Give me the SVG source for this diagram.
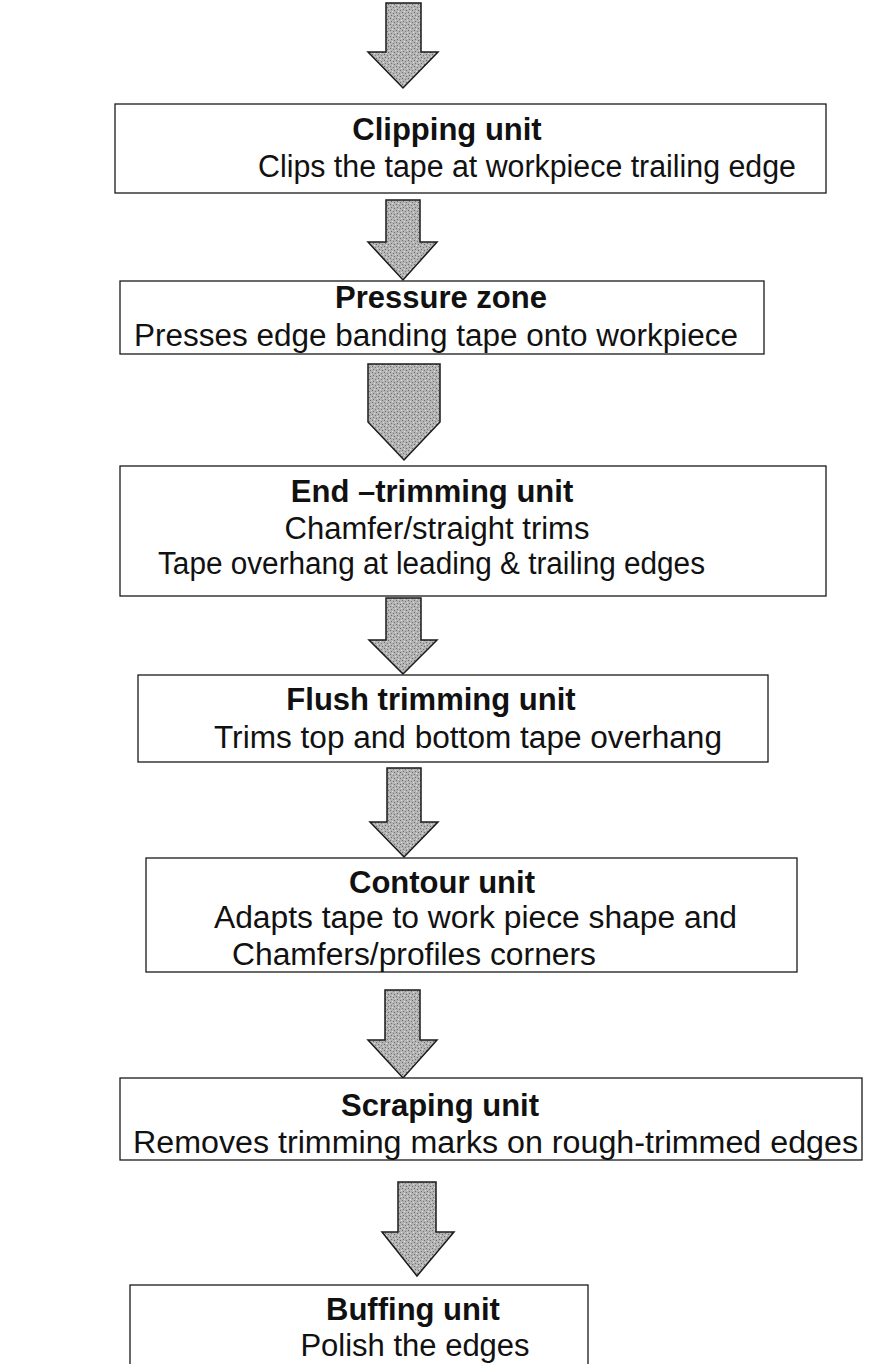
<svg xmlns="http://www.w3.org/2000/svg" width="872" height="1364" viewBox="0 0 872 1364">
<defs>
<pattern id="stipple" width="6" height="6" patternUnits="userSpaceOnUse">
<rect width="6" height="6" fill="#b4b4b4"/>
<rect x="0" y="0" width="1" height="1" fill="#6e6e6e"/>
<rect x="3" y="1" width="1" height="1" fill="#7a7a7a"/>
<rect x="1" y="3" width="1" height="1" fill="#707070"/>
<rect x="4" y="4" width="1" height="1" fill="#6a6a6a"/>
<rect x="2" y="5" width="1" height="1" fill="#e0e0e0"/>
<rect x="5" y="2" width="1" height="1" fill="#dcdcdc"/>
</pattern>
</defs>
<style>
.box{fill:#fff;stroke:#1a1a1a;stroke-width:1.3}
.arr{fill:url(#stipple);stroke:#1a1a1a;stroke-width:1.5;stroke-linejoin:miter}
.t{font-family:"Liberation Sans",Arial,sans-serif;font-size:31px;font-weight:bold;fill:#111;text-anchor:middle}
.b{font-family:"Liberation Sans",Arial,sans-serif;font-size:31px;fill:#111}
.c{text-anchor:middle}
</style>
<rect width="872" height="1364" fill="#fff"/>
<g id="connectors">
<polygon class="arr" points="386,3 421,3 421,52 438,52 403,88 368,52 386,52"/>
<polygon class="arr" points="386,200 420,200 420,242 437,242 403,280 368,242 386,242"/>
<polygon class="arr" points="368,364 440,364 440,422 404,460 368,422"/>
<polygon class="arr" points="386,598 421,598 421,640 437,640 403,674 369,640 386,640"/>
<polygon class="arr" points="387,768 421,768 421,822 438,822 404,857 370,822 387,822"/>
<polygon class="arr" points="385,990 420,990 420,1040 437,1040 403,1078 368,1040 385,1040"/>
<polygon class="arr" points="398,1182 436,1182 436,1232 454,1232 417,1276 382,1232 398,1232"/>
</g>
<g id="clipping">
<rect class="box" x="115" y="104" width="711" height="89"/>
<text class="t" x="447" y="140">Clipping unit</text>
<text class="b" x="258" y="177" textLength="538" lengthAdjust="spacingAndGlyphs">Clips the tape at workpiece trailing edge</text>
</g>
<g id="pressure">
<rect class="box" x="120" y="281" width="644" height="73"/>
<text class="t" x="441" y="308">Pressure zone</text>
<text class="b" x="134" y="346" textLength="604" lengthAdjust="spacingAndGlyphs">Presses edge banding tape onto workpiece</text>
</g>
<g id="endtrim">
<rect class="box" x="120" y="466" width="706" height="130"/>
<text class="t" x="432" y="502">End –trimming unit</text>
<text class="b c" x="437" y="539">Chamfer/straight trims</text>
<text class="b" x="158" y="574" textLength="547" lengthAdjust="spacingAndGlyphs">Tape overhang at leading &amp; trailing edges</text>
</g>
<g id="flush">
<rect class="box" x="138" y="675" width="630" height="87"/>
<text class="t" x="431" y="710">Flush trimming unit</text>
<text class="b" x="214" y="748" textLength="508" lengthAdjust="spacingAndGlyphs">Trims top and bottom tape overhang</text>
</g>
<g id="contour">
<rect class="box" x="146" y="858" width="651" height="114"/>
<text class="t" x="442" y="893">Contour unit</text>
<text class="b" x="214" y="928" textLength="523" lengthAdjust="spacingAndGlyphs">Adapts tape to work piece shape and</text>
<text class="b" x="232" y="965" textLength="364" lengthAdjust="spacingAndGlyphs">Chamfers/profiles corners</text>
</g>
<g id="scraping">
<rect class="box" x="120" y="1078" width="742" height="82"/>
<text class="t" x="440" y="1116">Scraping unit</text>
<text class="b" x="133" y="1153" textLength="725" lengthAdjust="spacingAndGlyphs">Removes trimming marks on rough-trimmed edges</text>
</g>
<g id="buffing">
<rect class="box" x="130" y="1285" width="458" height="100"/>
<text class="t" x="413" y="1320">Buffing unit</text>
<text class="b c" x="415" y="1356">Polish the edges</text>
</g>
</svg>
